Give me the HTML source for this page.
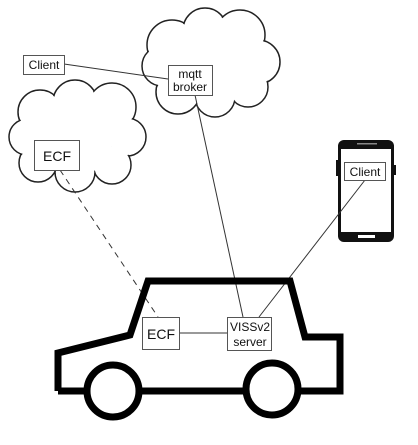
<!DOCTYPE html>
<html><head><style>
html,body{margin:0;padding:0;background:#fff;width:418px;height:445px;overflow:hidden}
svg{display:block}
text{font-family:"Liberation Sans",sans-serif;font-size:12px;fill:#111}
</style></head><body>
<svg width="418" height="445" viewBox="0 0 418 445">
<!-- mqtt cloud -->
<g stroke="#222" stroke-width="1.5" fill="#fff">
<circle cx="172" cy="45" r="25"/><circle cx="205" cy="30" r="22"/><circle cx="240" cy="35" r="25"/>
<circle cx="258" cy="62" r="22"/><circle cx="248" cy="87" r="20"/><circle cx="215" cy="97" r="20"/>
<circle cx="178" cy="92" r="22"/><circle cx="162" cy="66" r="20"/>
</g>
<g fill="#fff">
<circle cx="172" cy="45" r="24"/><circle cx="205" cy="30" r="21"/><circle cx="240" cy="35" r="24"/>
<circle cx="258" cy="62" r="21"/><circle cx="248" cy="87" r="19"/><circle cx="215" cy="97" r="19"/>
<circle cx="178" cy="92" r="21"/><circle cx="162" cy="66" r="19"/><circle cx="210" cy="62" r="35"/>
</g>
<!-- ECF cloud -->
<g stroke="#222" stroke-width="1.5" fill="#fff">
<circle cx="40" cy="112" r="22"/><circle cx="75" cy="102" r="22"/><circle cx="112" cy="107" r="24"/>
<circle cx="127" cy="137" r="19"/><circle cx="112" cy="165" r="19"/><circle cx="75" cy="172" r="20"/>
<circle cx="38" cy="163" r="19"/><circle cx="27" cy="137" r="18"/>
</g>
<g fill="#fff">
<circle cx="40" cy="112" r="21"/><circle cx="75" cy="102" r="21"/><circle cx="112" cy="107" r="23"/>
<circle cx="127" cy="137" r="18"/><circle cx="112" cy="165" r="18"/><circle cx="75" cy="172" r="19"/>
<circle cx="38" cy="163" r="18"/><circle cx="27" cy="137" r="17"/><circle cx="75" cy="138" r="38"/>
</g>
<!-- phone -->
<rect x="338" y="140" width="56" height="102" rx="6" fill="#111"/>
<rect x="336" y="160" width="2" height="16" fill="#111"/>
<rect x="394" y="165" width="2" height="10" fill="#111"/>
<rect x="341" y="149" width="50" height="83" fill="#fff"/>
<rect x="357" y="143" width="20" height="1.5" fill="#888"/>
<rect x="358" y="235" width="17" height="3" fill="#fff"/>
<!-- connectors -->
<g stroke="#333" stroke-width="1" fill="none">
<line x1="64" y1="64" x2="168" y2="79"/>
<line x1="195" y1="95" x2="243" y2="317"/>
<line x1="60" y1="170" x2="158" y2="317" stroke-dasharray="6,5"/>
<line x1="365" y1="180" x2="259" y2="317"/>
<line x1="179" y1="333" x2="227" y2="333"/>
</g>
<!-- car -->
<g stroke="#000" stroke-width="7" fill="none" stroke-linejoin="miter">
<polyline points="58,391 58,353 130,335 148,281 290,281 305,337 340,337 340,391 58,391"/>
</g>
<circle cx="113" cy="391" r="26" stroke="#000" stroke-width="7" fill="#fff"/>
<circle cx="272" cy="389" r="26" stroke="#000" stroke-width="7" fill="#fff"/>
<!-- boxes -->
<g stroke="#555" stroke-width="1" fill="#fff">
<rect x="23.5" y="55.5" width="41" height="19"/>
<rect x="168.5" y="65.5" width="44" height="30"/>
<rect x="34.5" y="140.5" width="45" height="30"/>
<rect x="344.5" y="162.5" width="41" height="18"/>
<rect x="142.5" y="317.5" width="37" height="32"/>
<rect x="227.5" y="317.5" width="44" height="33"/>
</g>
<text x="44" y="69" text-anchor="middle">Client</text>
<text x="190" y="78" text-anchor="middle">mqtt</text>
<text x="190" y="91" text-anchor="middle">broker</text>
<text x="57" y="161" text-anchor="middle" style="font-size:14px">ECF</text>
<text x="365" y="176" text-anchor="middle">Client</text>
<text x="161" y="339" text-anchor="middle" style="font-size:14px">ECF</text>
<text x="250" y="331" text-anchor="middle">VISSv2</text>
<text x="250" y="346" text-anchor="middle">server</text>
</svg>
</body></html>
